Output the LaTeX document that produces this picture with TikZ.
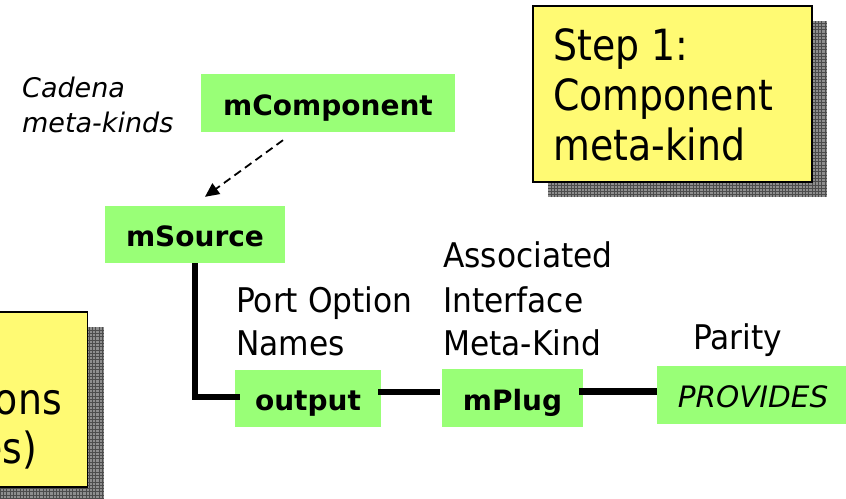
\documentclass[tikz,border=0pt]{standalone}
\usepackage{fontspec}
\setmainfont{DejaVu Sans}
\newfontfamily\narrowf{DejaVu Sans}[FakeStretch=0.92]
\newfontfamily\widef{DejaVu Sans}[FakeStretch=0.88]
\usetikzlibrary{calc,arrows.meta}

\definecolor{boxgreen}{HTML}{99FF77}
\definecolor{noteyellow}{HTML}{FFFA73}
\definecolor{shadegray}{HTML}{8E8E8E}
\definecolor{shadeline}{HTML}{4C4C4C}

\tikzset{
  kind/.style={fill=boxgreen, draw=none, inner sep=0pt,
    font=\fontsize{28}{34}\selectfont\bfseries,
    text height=24pt, text depth=0pt},
  note/.style={fill=noteyellow, draw=black, line width=1.5pt, inner sep=0pt},
  notetext/.style={anchor=base west, inner sep=0pt,
    font=\widef\fontsize{43}{50}\selectfont},
  labeltext/.style={anchor=base west, inner sep=0pt,
    font=\narrowf\fontsize{34}{43}\selectfont},
  metatext/.style={anchor=base west, inner sep=0pt,
    font=\fontsize{27}{35}\selectfont\itshape},
  wire/.style={draw=black, line width=6.5pt},
  dasharrow/.style={draw=black, line width=1.8pt, dash pattern=on 8pt off 5pt,
    -{Triangle[length=14pt,width=13pt]}},
  shadow/.style={fill=shadegray},
  shadowgrid/.style={draw=shadeline, line width=0.5pt, step=3.3pt},
}

\begin{document}
\begin{tikzpicture}[x=1pt, y=-1pt]
  \useasboundingbox (0,0) rectangle (846,498);
  \clip (0,0) rectangle (846,498);

  % hatched drop shadows of the two notes
  \fill[shadow] (548,21) rectangle (827,197);
  \draw[shadowgrid] (548,21) grid (827,197);
  \fill[shadow] (-175,327) rectangle (104,504);
  \draw[shadowgrid] (-175,327) grid (104,504);

  % note: step 1
  \node[note, anchor=north west, minimum width=279pt, minimum height=176pt]
    (step1) at (532,5) {};
  \node[notetext] (step1a) at (553,60) {Step 1:};
  \node[notetext] (step1b) at (553,110) {Component};
  \node[notetext] (step1c) at (553,160) {meta-kind};

  % note: port options
  \node[note, anchor=north east, minimum width=279pt, minimum height=175pt]
    (step2) at (88,311) {};
  \node[notetext, anchor=base east] (step2b) at (62,414) {Options};
  \node[notetext, anchor=base east] (step2c) at (37,463) {(Names)};

  % meta-kind boxes
  \node[kind, minimum width=254pt, minimum height=58pt] (mComponent) at (328,103) {mComponent};
  \node[kind, minimum width=180pt, minimum height=57pt] (mSource) at (195,234.5) {mSource};
  \node[kind, minimum width=146pt, minimum height=57pt] (output) at (308,398.5) {output};
  \node[kind, minimum width=141pt, minimum height=58pt] (mPlug) at (512.5,398) {mPlug};
  \node[kind, minimum width=192pt, minimum height=58pt,
    font=\fontsize{29.5}{34}\selectfont\itshape] (provides) at (753,395) {PROVIDES};

  % labels
  \node[metatext] (cad1) at (22,97) {Cadena};
  \node[metatext] (cad2) at (22,132) {meta-kinds};
  \node[labeltext] (pon1) at (236,312) {Port Option};
  \node[labeltext] (pon2) at (236,355) {Names};
  \node[labeltext] (aim1) at (443,267) {Associated};
  \node[labeltext] (aim2) at (443,312) {Interface};
  \node[labeltext] (aim3) at (443,355) {Meta-Kind};
  \node[labeltext] (par) at (693,349) {Parity};

  % connectors
  \draw[dasharrow] ($(mComponent.south)+(-45,8)$) -- ($(mSource.north)+(10,-9)$);
  \draw[wire] (mSource.south) |- ($(output.west)+(5,-1.5)$);
  \draw[wire] ($(output.east)+(-3,-6.5)$) -- ($(mPlug.west)+(-2,-6)$);
  \draw[wire] ($(mPlug.east)+(-4,-6.5)$) -- ($(provides.west)+(0,-3.5)$);
\end{tikzpicture}
\end{document}
